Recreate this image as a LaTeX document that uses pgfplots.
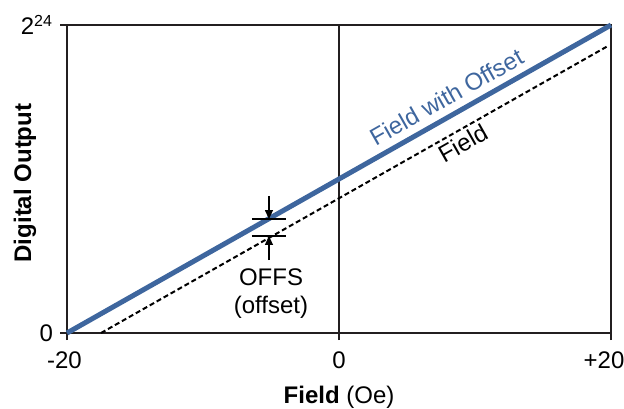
\documentclass[border=0pt]{standalone}
\usepackage{fontspec}
\setmainfont{Liberation Sans}
\usepackage{pgfplots}
\pgfplotsset{compat=1.18}
\usetikzlibrary{arrows.meta}
\definecolor{offblue}{RGB}{62,102,158}
\definecolor{axgray}{RGB}{35,31,32}

\begin{document}
\begin{tikzpicture}
\useasboundingbox (-33.5pt,-37.5pt) rectangle (278.5pt,166.5pt);
\begin{axis}[
    anchor=south west,
    at={(0,0)},
    scale only axis,
    width=272pt,
    height=154pt,
    xmin=-20, xmax=20,
    ymin=0, ymax=1,
    axis line style={axgray, line width=0.75pt},
    tick style={axgray, line width=0.75pt},
    tick align=outside,
    tick pos=left,
    major tick length=3.5pt,
    xtick={-20,0,20},
    xticklabels={{-20\hspace*{2.5pt}},0,{+20\hspace*{7pt}}},
    ytick={0,1},
    yticklabels={0,2\textsuperscript{24}},
    ticklabel style={font=\fontsize{12}{14}\selectfont},
    xticklabel style={yshift=-2.5pt},
    /pgf/number format/assume math mode=true,
    xlabel={\textbf{Field} (Oe)},
    ylabel={\textbf{Digital Output}},
    label style={font=\fontsize{12}{14}\selectfont},
    xlabel style={at={(axis description cs:0.5,0)}, anchor=center, yshift=-32pt},
    ylabel style={at={(axis description cs:-0.0772,0.487)}, anchor=center},
    clip=false,
]
% zero-field reference line
\draw[axgray, line width=0.75pt] (axis cs:0,0) -- (axis cs:0,1);

% field (no offset)
\addplot[black, line width=1pt, dash pattern=on 2.5pt off 1.5pt] coordinates {
    (-17.5, 0)
    (19.7, 0.93)
};
% field with offset
\addplot[offblue, line width=2.5pt] coordinates {
    (-20, 0)
    (20, 1)
};

\node[offblue, rotate=29.5, font=\fontsize{12}{14}\selectfont] at (axis cs:7.9,0.766) {Field with Offset};
\node[black, rotate=29.5, font=\fontsize{12}{14}\selectfont] at (axis cs:9.1,0.617) {Field};

% OFFS annotation
\draw[black, line width=0.6pt] (axis cs:-6.4,0.370) -- (axis cs:-3.9,0.370);
\draw[black, line width=0.6pt] (axis cs:-6.4,0.315) -- (axis cs:-3.9,0.315);
\draw[black, line width=0.6pt, -{Triangle[width=4pt,length=4.5pt]}] (axis cs:-5.15,0.445) -- (axis cs:-5.15,0.370);
\draw[black, line width=0.6pt, -{Triangle[width=4pt,length=4.5pt]}] (axis cs:-5.15,0.237) -- (axis cs:-5.15,0.315);
\node[align=center, font=\fontsize{12}{14}\selectfont] at (axis cs:-5.0,0.128) {OFFS\\(offset)};
\end{axis}
\end{tikzpicture}
\end{document}
